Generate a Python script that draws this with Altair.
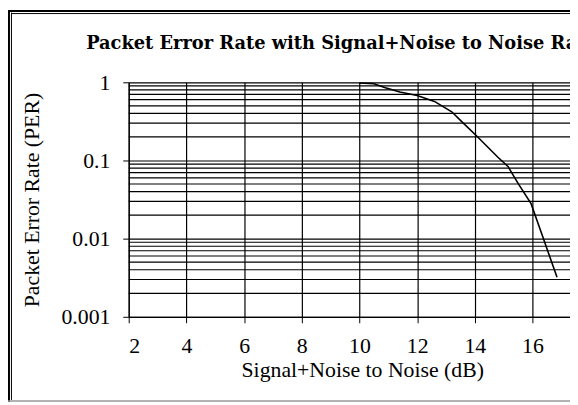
import altair as alt
import pandas as pd

# Curve values
snr_db = [10.0, 10.5, 10.9, 11.4, 12.0, 12.6, 13.2, 13.6, 14.1, 14.8, 15.15, 15.5, 15.95, 16.35, 16.85]
per = [0.98, 0.96, 0.85, 0.75, 0.68, 0.57, 0.42, 0.30, 0.20, 0.11, 0.084, 0.051, 0.028, 0.0107, 0.0032]

x_ticks = [2, 4, 6, 8, 10, 12, 14, 16]
y_major = [0.001, 0.01, 0.1, 1]
y_minor = [0.002, 0.003, 0.004, 0.005, 0.006, 0.007, 0.008, 0.009,
           0.02, 0.03, 0.04, 0.05, 0.06, 0.07, 0.08, 0.09,
           0.2, 0.3, 0.4, 0.5, 0.6, 0.7, 0.8, 0.9]

title_text = "Packet Error Rate with Signal+Noise to Noise Ratio"
x_title = "Signal+Noise to Noise (dB)"
y_title = "Packet Error Rate (PER)"

FONT = "Liberation Serif"
TITLE_FONT = "DejaVu Serif"
W, H = 446, 237

curve_df = pd.DataFrame({"snr": snr_db, "per": per})
minor_df = pd.DataFrame({"per": y_minor})
one = pd.DataFrame({"a": [0]})

x_scale = alt.Scale(domain=[2, 17.3], nice=False, zero=False)
y_scale = alt.Scale(type="log", domain=[0.001, 1], nice=False)

x_axis = alt.Axis(values=x_ticks, grid=True, gridColor="black", gridWidth=1.2,
                  tickColor="black", tickSize=6, domainColor="black", domainWidth=1.2,
                  labelFontSize=22, labelColor="black", labelPadding=13,
                  title=x_title, titleFontSize=22, titleFontWeight="normal",
                  titleColor="black", titlePadding=3, titleX=236)
y_axis = alt.Axis(values=y_major, format="~g", grid=True, gridColor="black", gridWidth=1.2,
                  tickColor="black", tickSize=6, domainColor="black", domainWidth=1.2,
                  labelFontSize=22, labelColor="black", labelPadding=13,
                  title=y_title, titleFontSize=22, titleFontWeight="normal",
                  titleColor="black", titlePadding=18)

minor = alt.Chart(minor_df).mark_rule(color="black", strokeWidth=1.2).encode(
    y=alt.Y("per:Q", scale=y_scale, axis=y_axis)
)

line = alt.Chart(curve_df).mark_line(color="black", strokeWidth=1.6).encode(
    x=alt.X("snr:Q", scale=x_scale, axis=x_axis),
    y=alt.Y("per:Q", scale=y_scale, axis=y_axis),
)

title_mark = alt.Chart(one).mark_text(
    align="left", baseline="alphabetic", font=TITLE_FONT, fontSize=18, fontWeight="bold", color="black"
).encode(x=alt.value(-43), y=alt.value(-34), text=alt.value(title_text))

frame_left_outer = alt.Chart(one).mark_rule(color="black", strokeWidth=2).encode(
    x=alt.value(-121), y=alt.value(-73), y2=alt.value(323))
frame_left_inner = alt.Chart(one).mark_rule(color="black", strokeWidth=1).encode(
    x=alt.value(-118.5), y=alt.value(-70.5), y2=alt.value(321))
frame_top_outer = alt.Chart(one).mark_rule(color="black", strokeWidth=2).encode(
    y=alt.value(-72), x=alt.value(-122), x2=alt.value(446))
frame_top_inner = alt.Chart(one).mark_rule(color="black", strokeWidth=1).encode(
    y=alt.value(-69.5), x=alt.value(-118.5), x2=alt.value(446))
frame_bottom = alt.Chart(one).mark_rule(color="#9a9a9a", strokeWidth=1.5).encode(
    y=alt.value(322), x=alt.value(-122), x2=alt.value(446))

chart = alt.layer(
    minor, line, title_mark,
    frame_left_outer, frame_left_inner, frame_top_outer, frame_top_inner, frame_bottom,
).properties(
    width=W, height=H,
    autosize=alt.AutoSizeParams(type="none"),
    padding={"left": 122, "top": 73, "right": 0, "bottom": 85},
    background="white",
).configure(font=FONT).configure_view(stroke=None).configure_axis(
    labelFont=FONT, titleFont=FONT
)

chart.save("out.html", embed_options={"renderer": "svg", "actions": False})
